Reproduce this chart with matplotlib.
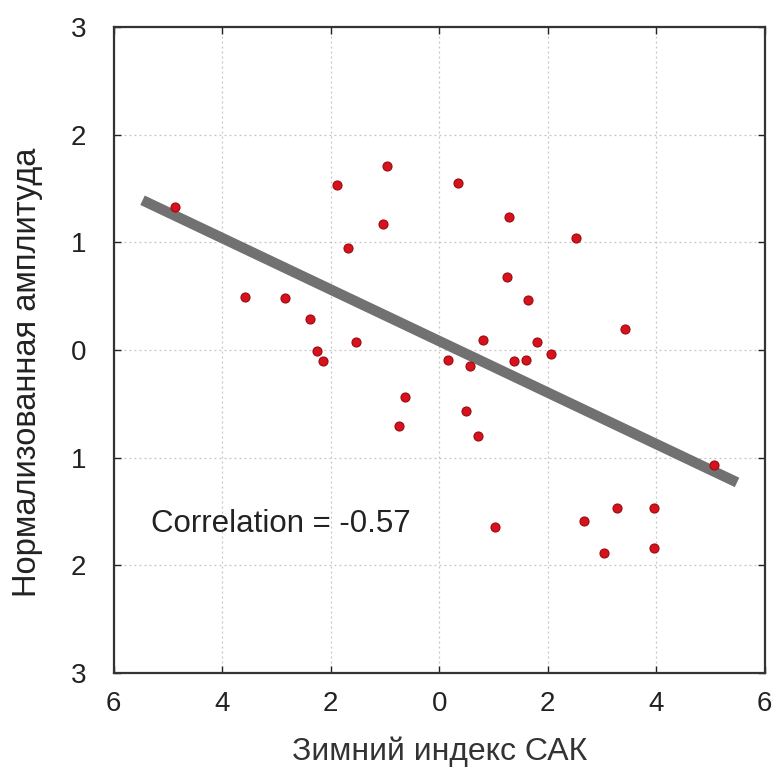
import numpy as np
import matplotlib.pyplot as plt

# -----------------------------
# Données
# -----------------------------
nao_index = [-4.88, -3.59, -2.85, -2.38, -2.25, -2.14, -1.88, -1.68, -1.53,
             -1.03, -0.96, -0.63, -0.74, 0.35, 0.17, 0.57, 0.81, 1.29, 1.24,
             1.64, 1.37, 1.60, 1.81, 2.06, 2.53, 3.43, 0.50, 0.72, 1.03,
             5.07, 2.67, 3.28, 3.96, 3.04, 3.96]
amplitude = [1.33, 0.49, 0.48, 0.29, -0.01, -0.10, 1.53, 0.95, 0.07,
             1.17, 1.71, -0.44, -0.71, 1.55, -0.09, -0.15, 0.09, 1.23, 0.68,
             0.46, -0.10, -0.09, 0.07, -0.04, 1.04, 0.19, -0.57, -0.80, -1.64,
             -1.07, -1.59, -1.47, -1.47, -1.89, -1.84]

fit_x = [-5.47, 5.49]
fit_y = [1.39, -1.23]

ticks = [-6, -4, -2, 0, 2, 4, 6]
xtick_labels = ["6", "4", "2", "0", "2", "4", "6"]
yticks = [-3, -2, -1, 0, 1, 2, 3]
ytick_labels = ["3", "2", "1", "0", "1", "2", "3"]

plt.rcParams['font.family'] = ['Liberation Sans', 'DejaVu Sans']

fig = plt.figure(figsize=(7.74, 7.67), dpi=100)
ax = fig.add_axes([0.147, 0.1225, 0.841, 0.8425])

ax.plot(fit_x, fit_y, color='#717171', linewidth=7.5, solid_capstyle='butt', zorder=2)
ax.plot(nao_index, amplitude, 'o', color='#d8121c', markeredgecolor='#9a0a10',
        markeredgewidth=0.8, markersize=6.5, zorder=3)

ax.set_xlim(-6, 6)
ax.set_ylim(-3, 3)
ax.set_xticks(ticks)
ax.set_xticklabels(xtick_labels)
ax.set_yticks(yticks)
ax.set_yticklabels(ytick_labels)
ax.tick_params(direction='in', top=True, right=True, length=5, width=1,
               labelsize=20, colors='#222222')
ax.tick_params(axis='x', pad=13)
ax.tick_params(axis='y', pad=20)

ax.grid(True, linestyle=(0, (1.5, 2.5)), color='#c4c4c4', linewidth=0.9)
for s in ax.spines.values():
    s.set_linewidth(1.6)
    s.set_color('#333333')

ax.text(-5.32, -1.62, "Correlation = -0.57", fontsize=22.5, color='#222222',
        va='center', ha='left')

ax.set_xlabel("Зимний индекс САК", fontsize=23, color='#333333', labelpad=14)
ax.set_ylabel("Нормализованная амплитуда", fontsize=23.5, color='#222222')
ax.yaxis.set_label_coords(-0.109, 0.466)

fig.savefig("out.png", dpi=100)
